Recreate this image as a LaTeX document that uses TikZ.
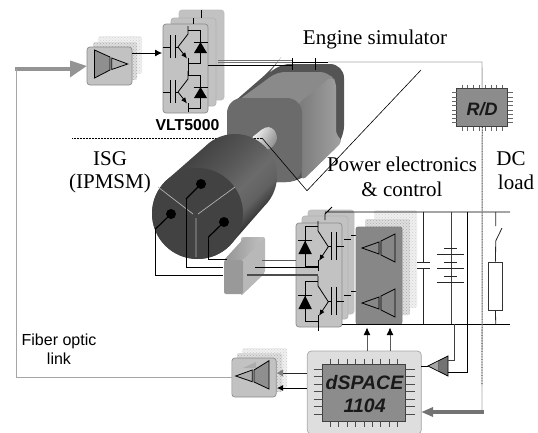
\documentclass[tikz,border=0pt]{standalone}
\usepackage{fontspec}
\setmainfont{Liberation Serif}
\setsansfont{Liberation Sans}
\usetikzlibrary{arrows.meta,patterns,calc}
\pgfdeclareverticalshading{cylshade}{100bp}{color(0bp)=(black!80); color(32bp)=(black!80); color(38bp)=(black!62); color(45bp)=(black!58); color(55bp)=(black!66); color(68bp)=(black!74); color(100bp)=(black!74)}
\tikzset{
  panel/.style={draw=black!45,fill=black!24,rounded corners=3,inner sep=0pt,line width=.7pt},
  ghostA/.style={preaction={fill=black!13},pattern=crosshatch dots,pattern color=black!32,draw=none,rounded corners=2,inner sep=0pt},
  ghostB/.style={preaction={fill=black!6},pattern=crosshatch dots,pattern color=black!18,draw=none,rounded corners=2,inner sep=0pt},
  chip/.style={draw=black!75,fill=black!45,line width=.9pt,inner sep=0pt},
  wire/.style={line width=.8pt,black},
  stator/.style={line width=1.2pt,black,line join=round},
  fiber/.style={line width=.9pt,black!35},
  bus/.style={line width=.8pt,black!85},
  amptri/.style={draw=black,line width=.8pt,line join=miter},
  serif/.style={font=\fontsize{21}{21}\selectfont,anchor=base},
  sans/.style={font=\fontsize{16}{16}\sffamily\selectfont,anchor=base},
  blocktext/.style={font=\fontsize{19.5}{20}\sffamily\bfseries\itshape\selectfont,anchor=base,text=black!90},
  pin/.style={line width=.7pt,black!60},
}
\newcommand{\igbtleg}[1]{%
 \begin{scope}[#1]
  \draw[wire] (0,0) -- (12.5,0) -- (12.5,33.5) -- (0,33.5);
  \fill[black] (6,23) -- (19,23) -- (12.5,12) -- cycle;
  \draw[wire] (5.5,12) -- (19.5,12);
  \draw[wire] (0,-4) -- (0,4) -- (-10,17);
  \draw[wire,-{Latex[length=6pt,width=5pt]}] (-10,17) -- (-1,28.5);
  \draw[wire] (0,28) -- (0,37);
  \draw[wire] (-13,5) -- (-13,28) (-18,5) -- (-18,28) (-18,17) -- (-25,17);
  \draw[wire] (-13,17) -- (-10,17);
 \end{scope}}
\begin{document}
\begin{tikzpicture}[x=1pt,y=-1pt]
\useasboundingbox (0,0) rectangle (538,432);

% ---------- upper amplifier ----------
\node[ghostB,minimum width=44,minimum height=38] (amp1g2) at (120,55) {};
\node[ghostA,minimum width=44,minimum height=38] (amp1g1) at (115,61) {};
\fill[black!32] (117,50) -- (130,55) -- (117,58) -- cycle;
\node[panel,minimum width=45,minimum height=38] (amp1) at (109.5,66) {};
\draw[amptri,fill=black!44] (94.5,50) -- (110,57) -- (110,70) -- (94.5,78) -- cycle;
\draw[amptri,fill=black!32] (111.7,58) -- (127.7,64) -- (111.7,69.5) -- cycle;

% ---------- VLT5000 stack ----------
\node[panel,draw=black!25,minimum width=45,minimum height=90] (vlt3) at (201.5,55) {};
\node[panel,draw=black!30,minimum width=45,minimum height=88] (vlt2) at (193.5,62) {};
\node[panel,minimum width=45,minimum height=89] (vlt1) at (185.5,68.5) {};
\draw[wire] (201,10) -- (201,18);
\draw[wire] (193,18) -- (193,24);
\igbtleg{shift={(188,30)}}
\igbtleg{shift={(188,75)}}
\draw[wire] (188,63.5) -- (188,75);
\coordinate (ampout) at (132,53);
\coordinate (vltin) at (162,53);
\draw[wire,-{Latex[length=7pt,width=7pt]}] (ampout) -- (vltin);

% thick input arrow and fibre to upper amp
\coordinate (fibTL) at (16,69);
\coordinate (fibBL) at (16,377);
\coordinate (headbase) at (70,69);
\draw[line width=4.5pt,black!42] (15,69) -- (headbase);
\fill[black!42] (70,60.5) -- (amp1.west) -- (70,77.5) -- cycle;

% ---------- engine simulator ----------
\fill[black!67,rounded corners=14] (227,108) -- (273,68) -- (276,64) -- (344,64) -- (344,140) -- (300,182) -- (227,182) -- cycle;
\fill[black!46,rounded corners=8] (236,102) -- (277,72) -- (328,72) -- (336,82) -- (300,112) -- cycle;
\path[left color=black!52,right color=black!36,rounded corners=5] (298,104) -- (332,76) -- (336,82) -- (336,135) -- (343,141) -- (302,181) -- cycle;
\fill[black!58,rounded corners=15] (227,98) rectangle (302,182);

% shaft
\path[top color=black!2,bottom color=black!45,shading angle=60,rounded corners=4] (250,139) -- (265,127) -- (272,127) -- (277,134) -- (277,142) -- (268,151) -- cycle;

% reference dotted line, behind the ISG
\coordinate (refL) at (72,138);
\coordinate (refR) at (262,138);
\draw[line width=.5pt,densely dotted,black] (refL) -- (refR);

% ---------- ISG machine ----------
\path[shading=cylshade,shading angle=45]
  plot[domain=-45:135,samples=40] ({235+42*cos(\x)},{176-42*sin(\x)})
  -- plot[domain=135:315,samples=40] ({197.5+45.5*cos(\x)},{213.5-45.5*sin(\x)}) -- cycle;
\fill[black!74] (197.5,213.5) circle[radius=45.5];
\draw[line width=.7pt,black!30] (158,187) -- (193,214) (235,187) -- (198,214) (196,218) -- (196,257);
\fill[black] (201,184) circle[radius=5];
\fill[black] (171,214) circle[radius=5];
\fill[black] (224,222) circle[radius=5];

% ---------- callout for power electronics ----------
\coordinate (callA) at (307,190.7);
\coordinate (callB) at (421,70);
\draw[line width=.6pt,black] (refR) -- (callA) -- (callB);

% ---------- sensor block ----------
\fill[black!28,rounded corners=2] (241,237) -- (265,237) -- (265,273) -- (241,296) -- cycle;
\path[left color=black!42,right color=black!24,rounded corners=2] (224,260) -- (245,237) -- (265,237) -- (243,260) -- cycle;
\fill[black!40,rounded corners=2] (224,260) rectangle (243,294);

% ---------- inverter stack ----------
\node[panel,draw=black!25,minimum width=46,minimum height=104] (inv3) at (331,262) {};
\node[panel,draw=black!30,minimum width=46,minimum height=103] (inv2) at (325,267.5) {};
\node[panel,minimum width=46,minimum height=104] (inv1) at (319,275) {};
\igbtleg{shift={(318,226)},xscale=-1.03,yscale=1.22}
\igbtleg{shift={(318,281)},xscale=-1.03,yscale=1.22}
\draw[wire] (344,239) -- (351,239) (351,235) -- (357,235) (344,295) -- (351,295) (351,291) -- (357,291);

% wires from machine through sensor block
\coordinate (sensTop) at (227,259);
\coordinate (sensMid) at (223,267.7);
\coordinate (sensBot) at (223,275);
\draw[stator] (201,184) -- (186,199);
\draw[wire] (186,199) -- (186,267.7) -- (sensMid);
\draw[stator] (171,214) -- (155.5,229);
\draw[wire] (155.5,229) -- (155.5,275) -- (sensBot);
\draw[stator] (224,222) -- (208.5,237);
\draw[wire] (208.5,237) -- (208.5,259) -- (sensTop);
\draw[line width=1pt,black!65] (262,260) -- (inv1.west |- 0,260);
\draw[wire] (255,267.7) -- (318,267.7);
\draw[line width=1.1pt,black!70] (247,275) -- (318,275);

% ---------- gate driver ----------
\node[ghostB,minimum width=43,minimum height=98] (drvg2) at (395.5,259) {};
\node[ghostA,minimum width=45,minimum height=96] (drvg1) at (387.5,267) {};
\fill[black!32] (380,236) -- (393,228) -- (393,240) -- cycle;
\fill[black!32] (380,292) -- (393,284) -- (393,296) -- cycle;
\node[panel,draw=black!50,fill=black!47,minimum width=46,minimum height=97,rounded corners=2] (drv) at (379,275.5) {};
\draw[amptri,fill=black!47] (362,248) -- (379,242) -- (379,254) -- cycle;
\draw[amptri,fill=black!47] (381,241) -- (395,234) -- (395,262) -- (381,255) -- cycle;
\draw[amptri,fill=black!47] (362,303) -- (379,297) -- (379,309) -- cycle;
\draw[amptri,fill=black!47] (381,296) -- (395,289) -- (395,317) -- (381,310) -- cycle;

% ---------- DC bus ----------
\coordinate (railT) at (325,212);
\coordinate (railTE) at (510,212);
\coordinate (railB) at (342,324);
\coordinate (railBE) at (510,324);
\draw[wire] (325,220) -- (325,214) -- (332,207) (railT) -- (railTE);
\draw[wire] (railB) -- (railBE);
\draw[wire] (318,322) -- (318,331);
% capacitor
\draw[bus] (423.7,212) -- (423.7,262.7) (423.7,268.7) -- (423.7,324);
\draw[bus] (417,262.7) -- (430,262.7) (417,268.7) -- (430,268.7);
% battery
\draw[line width=.8pt,black!75] (451,212) -- (451,324);
\draw[bus] (437,254) -- (464,254) (444,248) -- (457,248) (444,262.7) -- (457,262.7)
  (437,268) -- (464,268) (444,276.7) -- (457,276.7) (437,282) -- (464,282);
% switch and resistor
\node[draw=black!80,fill=white,line width=.8pt,minimum width=13.6,minimum height=48,inner sep=0pt] (rload) at (495.5,286) {};
\draw[bus] (495.7,212) -- (495.7,226) (495.7,241) -- (502,228) (495.7,241) -- (rload.north) (rload.south) -- (495.7,324);

% ---------- fibre and resolver wiring ----------
\node[chip,minimum width=51,minimum height=38.4] (rd) at (482.2,107.5) {};
\foreach \x in {462,467.8,473.6,479.4,485.2,491,496.8,502.6}{
  \draw[pin] (\x,84.5) -- (\x,88.3) (\x,126.7) -- (\x,130.5);}
\foreach \y in {92.7,97,101.3,105.6,109.9,114.2,118.5,122.8}{
  \draw[pin] (452,\y) -- (456.7,\y) (507.7,\y) -- (512.6,\y);}
\node[blocktext,font=\fontsize{18}{18}\sffamily\bfseries\itshape\selectfont] (rdlabel) at (482,115) {R/D};

\coordinate (fibA) at (218,61);
\coordinate (fibB) at (292,61);
\coordinate (fibC) at (315,62);
\coordinate (fibD) at (482,62);
\draw[line width=.7pt,black!55] (218,60) -- (292,60) (218,62.3) -- (292,62.3);
\draw[wire] (208,65) -- (292,65);
\draw[wire] (292,58) -- (292,70) (315,58) -- (315,70) (292,62) -- (315,62);
\draw[wire] (315,62) -- (328,62);
\draw[fiber] (328,62) -- (fibD) -- (rd.north);
\draw[fiber] (rd.south) -- (482,413);
\draw[line width=.6pt,black,densely dotted] (rd.south) -- (482,385);

% ---------- dSPACE ----------
\node[panel,draw=black!35,fill=black!13,minimum width=114,minimum height=83,rounded corners=4] (dsp) at (364.3,392.5) {};
\node[chip,minimum width=83.7,minimum height=57.4] (dspchip) at (363.8,393) {};
\foreach \x in {330.3,338.7,347.2,355.6,363.9,372.3,380.6,389,397.3}{
  \draw[pin,black!70] (\x,358.7) -- (\x,364.3) (\x,421.7) -- (\x,427);}
\foreach \y in {369.3,376.8,384.3,391.8,399.3,406.8,414.3}{
  \draw[pin,black!70] (313.7,\y) -- (322,\y) (405.7,\y) -- (414.7,\y);}
\node[blocktext] (dsptext) at (364.5,389) {dSPACE};
\node[blocktext] (dsp1104) at (364.7,412) {1104};

% arrows dSPACE -> driver
\coordinate (up1) at (367,351);
\coordinate (up2) at (390,351);
\coordinate (up1e) at (367,327.5);
\coordinate (up2e) at (390,327.5);
\draw[line width=.9pt,black!65,-{Latex[length=7.5pt,width=7pt,black]}] (up1) -- (up1e);
\draw[line width=.9pt,black!65,-{Latex[length=7.5pt,width=7pt,black]}] (up2) -- (up2e);

% current-sense amp
\coordinate (sa) at (421,366);
\coordinate (sb) at (448,360);
\coordinate (sc) at (448,372);
\draw[wire] (sa) -- (428,366);
\draw[amptri,fill=black!55] (428,366) -- (448,356) -- (448,376) -- cycle;
\fill[black!35] (429.5,366) -- (438,361.5) -- (438,370.5) -- cycle;
\draw[line width=.8pt,black!60] (438,361) -- (438,371);
\draw[line width=.9pt,black!75] (sb) -- (454,360) -- (454,324);
\draw[wire] (sc) -- (467,372) -- (467,212);

% thick arrow into dSPACE
\coordinate (thickS) at (484,412);
\coordinate (thickB) at (433,412);
\draw[line width=4pt,black!55] (thickS) -- (thickB);
\fill[black!55] (433,407) -- (dsp.east |- thickS) -- (433,417) -- cycle;

% ---------- lower-left amplifier ----------
\node[ghostB,minimum width=45,minimum height=40] (amp2g2) at (264.5,368) {};
\node[ghostA,minimum width=45,minimum height=39] (amp2g1) at (259.5,372.5) {};
\node[panel,minimum width=44.3,minimum height=39] (amp2) at (254,377.5) {};
\fill[black!32] (243,368) -- (256,362) -- (256,368) -- cycle;
\draw[amptri,fill=black!32] (235.7,376) -- (252.3,370) -- (252.3,381.7) -- cycle;
\draw[amptri,fill=black!44] (254,370) -- (269,360.7) -- (269,389) -- (254,382) -- cycle;
\draw[wire,black!85] (dsp.west |- 0,373) -- (283,373);
\fill[black!50] (283,369.5) -- (277,373) -- (283,376.5) -- cycle;
\draw[wire,-{Latex[length=6pt,width=6pt]}] (dsp.west |- 0,388) -- (277,388);

% fibre loop
\draw[fiber] (fibTL) -- (fibBL) -- (amp2.west |- fibBL);

% ---------- labels ----------
\node[sans,font=\fontsize{15.8}{16}\sffamily\bfseries\selectfont] (vltlabel) at (187.5,130.7) {VLT5000};
\node[serif] (engine) at (375,44) {Engine simulator};
\node[serif] (isg) at (110,165) {ISG};
\node[serif] (ipmsm) at (110,188) {(IPMSM)};
\node[serif] (pe1) at (402,171.7) {Power electronics};
\node[serif] (pe2) at (402,196.7) {\& control};
\node[serif] (dc) at (511,165) {DC};
\node[serif] (load) at (516,189) {load};
\node[sans] (fo1) at (59,345) {Fiber optic};
\node[sans] (fo2) at (59,364) {link};
\end{tikzpicture}
\end{document}
